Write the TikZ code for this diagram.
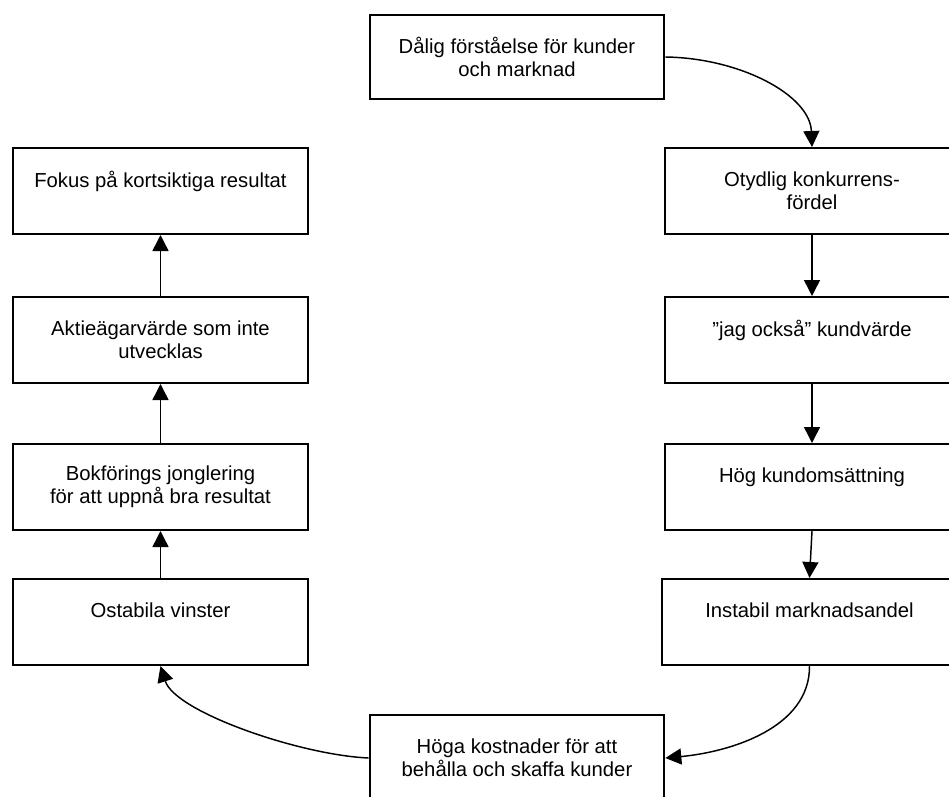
\documentclass[tikz,border=0pt]{standalone}
\usepackage{fontspec}
\setmainfont{Liberation Sans}
\usetikzlibrary{arrows.meta}
\tikzset{
  box/.style={draw=black, line width=1.5pt, fill=white, minimum width=221pt, minimum height=64.5pt,
    inner sep=0pt, align=center, font=\fontsize{15.2}{17.3}\selectfont},
  conn/.style={draw=black, line width=1.1pt, -{Triangle[length=12pt,width=12pt]}}
}
\begin{document}
\begin{tikzpicture}[x=0.75pt,y=-0.75pt]
\useasboundingbox (0,0) rectangle (949,796);
\clip (0,0) rectangle (949,796);
\fill[white] (0,0) rectangle (949,796);
% nodes
\node[box, minimum height=63pt] (top) at (517,57) {Dålig förståelse för kunder\\och marknad};
\node[box] (fokus) at (160.5,191) {Fokus på kortsiktiga resultat\\\mbox{}};
\node[box] (aktie) at (160.5,340) {Aktieägarvärde som inte\\utvecklas};
\node[box] (bokf) at (160.5,487) {Bokförings jonglering\\för att uppnå bra resultat};
\node[box] (ostab) at (160.5,622) {Ostabila vinster\\\mbox{}};
\node[box] (otyd) at (812,191) {Otydlig konkurrens-\\fördel};
\node[box] (jag) at (812,340) {''jag också'' kundvärde\\\mbox{}};
\node[box] (hog) at (812,487) {Hög kundomsättning\\\mbox{}};
\node[box] (instab) at (809.5,622) {Instabil marknadsandel\\\mbox{}};
\node[box] (hoga) at (517,758) {Höga kostnader för att\\behålla och skaffa kunder};
% connectors
\draw[conn] (top.east) .. controls (740,58) and (810,95) .. (otyd.north);
\draw[conn] (otyd.south) -- (jag.north);
\draw[conn] (jag.south) -- (hog.north);
\draw[conn] (hog.south) -- (instab.north);
\draw[conn] (instab.south) .. controls (810,728) and (730,752) .. (hoga.east);
\draw[conn] (hoga.west) .. controls (300,755) and (175,712) .. (ostab.south);
\draw[conn] (ostab.north) -- (bokf.south);
\draw[conn] (bokf.north) -- (aktie.south);
\draw[conn] (aktie.north) -- (fokus.south);
\end{tikzpicture}
\end{document}
